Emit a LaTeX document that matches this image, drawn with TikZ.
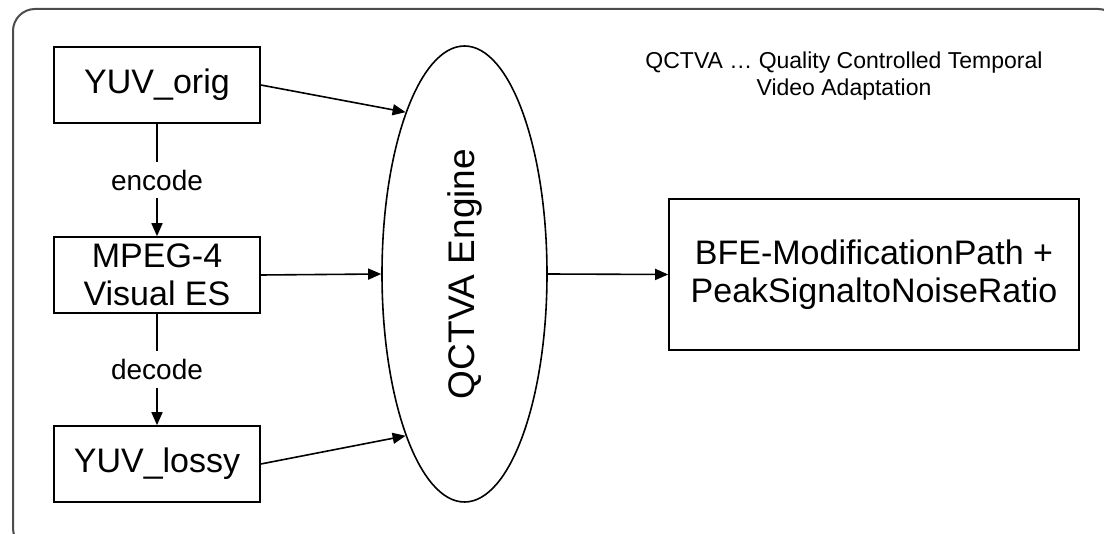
\documentclass[tikz,border=0pt]{standalone}
\usepackage{fontspec}
\setmainfont{Liberation Sans}
\usepackage{tikz}
\usetikzlibrary{shapes}
\usetikzlibrary{arrows.meta}
\usetikzlibrary{positioning}
\tikzstyle{cadre}=[draw=black!70,line width=1pt,rounded corners=11pt]
\tikzstyle{bloc}=[
        rectangle,
        draw,
        line width=0.8pt,
        align=center,
        inner sep=0pt,
        minimum width=103pt,
        minimum height=38pt,
        font=\fontsize{17}{19}\selectfont
]
\tikzstyle{resultat}=[bloc,minimum width=205pt,minimum height=75.5pt]
\tikzstyle{moteur}=[ellipse,draw,line width=0.8pt,inner sep=0pt,
minimum width=82.5pt,minimum height=228pt,font=\fontsize{18.5}{22}\selectfont]
\tikzstyle{etiquette}=[fill=white,inner sep=4pt,font=\fontsize{14}{16}\selectfont]
\tikzstyle{note}=[align=center,font=\fontsize{11.5}{13.5}\selectfont]
\tikzstyle{suite}=[-{Triangle[length=6.5pt,width=5.5pt]},line width=0.8pt]

\begin{document}
\begin{tikzpicture}[x=0.5pt,y=-0.5pt]
\useasboundingbox (0,0) rectangle (1104,534);
\clip (0,0) rectangle (1104,534);
\draw[cadre] (13,9) rectangle (1120,550);
\node[bloc] (orig) at (157,85) {YUV\_orig};
\node[bloc] (mpeg) at (157,275) {MPEG-4\\Visual ES};
\node[bloc] (lossy) at (157,464) {YUV\_lossy};
\node[moteur] (engine) at (464.5,274) {\rotatebox{90}{QCTVA Engine}};
\node[resultat] (bfe) at (874,274.5) {BFE-ModificationPath +\\PeakSignaltoNoiseRatio};
\node[note] (legende) at (844,76.5) {QCTVA … Quality Controlled Temporal\\Video Adaptation};
%Drawing Edges
\draw[suite] (orig) -- node[etiquette]{encode} (mpeg);
\draw[suite] (mpeg) -- node[etiquette]{decode} (lossy);
\draw[suite] (orig.east) -- (engine.110);
\draw[suite] (mpeg.east) -- (engine.west);
\draw[suite] (lossy.east) -- (engine.250);
\draw[suite] (engine.east) -- (bfe.west);
\end{tikzpicture}
\end{document}
